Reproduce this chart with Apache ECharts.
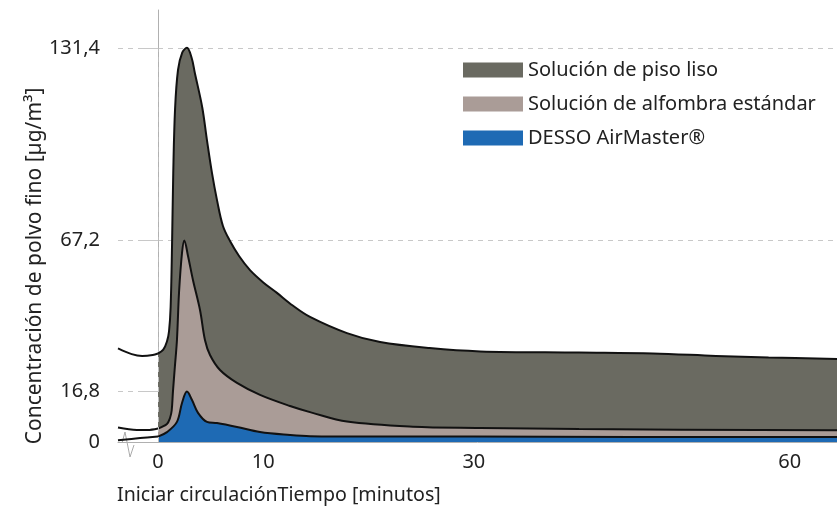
<!DOCTYPE html>
<html>
<head>
<meta charset="utf-8">
<script src="https://cdn.jsdelivr.net/npm/echarts@6/dist/echarts.min.js"></script>
<style>
html, body { margin: 0; padding: 0; background: #fff; }
#chart { width: 837px; height: 508px; }
</style>
</head>
<body>
<div id="chart"></div>
<script>
// names
var seriesNames = ['Solución de piso liso', 'Solución de alfombra estándar', 'DESSO AirMaster®'];
var yTicks = [0, 16.8, 67.2, 131.4];
var xTicks = [0, 10, 30, 60];

// [minutes, µg/m³] before circulation starts (line only)
var pisoPre = [[-3.8, 31.2], [-2.5, 29.3], [-1.5, 28.7], [-0.5, 29.0], [0, 29.5]];
var alfombraPre = [[-3.8, 4.8], [-2, 4.0], [-1, 4.0], [0, 4.5]];
var dessoPre = [[-3.8, 0.6], [-1.7, 1.3], [0, 1.8]];

// after start (filled)
var piso = [
	[0, 29.5], [0.5, 30.8], [0.85, 33.5], [1.05, 37], [1.2, 45], [1.33, 65], [1.45, 90],
	[1.62, 111], [1.9, 124], [2.3, 129.8], [2.75, 131.4], [3.2, 128], [3.5, 123],
	[4.2, 111.6], [4.65, 100.6], [5.13, 89.6], [5.6, 80.7], [6.17, 72], [6.84, 67],
	[7.7, 62], [8.74, 57.3], [10, 53.2], [11.3, 49.7], [12.8, 45.5], [14.44, 41.7],
	[17.95, 36.3], [21.1, 33.3], [25.8, 31.3], [30.6, 30.2], [40, 29.8], [47, 29.5],
	[53, 28.7], [58, 28.2], [64.5, 27.7]
];
var alfombra = [
	[0, 4.5], [0.85, 6.0], [1.14, 8.0], [1.3, 10.5], [1.42, 16.8], [1.6, 25], [1.8, 34],
	[2.0, 50], [2.28, 63], [2.5, 67.2], [2.85, 62], [3.32, 54], [3.99, 44], [4.46, 34],
	[4.94, 29], [5.89, 24], [7.5, 19.7], [9.69, 15.7], [12.54, 12], [14.6, 9.8],
	[17.95, 6.8], [24.2, 5.1], [30.6, 4.7], [40, 4.3], [64.5, 3.9]
];
var desso = [
	[0, 1.8], [0.85, 3.3], [1.8, 6.7], [2.28, 13], [2.75, 16.8], [3.23, 14], [3.8, 9.7],
	[4.65, 6.7], [5.6, 6.3], [7.5, 5.0], [9.69, 3.3], [12.54, 2.3], [14.44, 1.9],
	[20, 1.8], [30, 1.8], [45, 1.7], [64.5, 1.7]
];

var fills = ['#6a6a61', '#aa9c97', '#1e6ab4'];
var txt = '#222';
var fontFamily = 'Noto Sans';

function preLine(name, data) {
	return {
		name: name,
		type: 'line',
		data: data,
		smooth: 0.35,
		symbol: 'none',
		silent: true,
		lineStyle: { color: '#111', width: 2 }
	};
}

function mainArea(name, data, color) {
	return {
		name: name,
		type: 'line',
		data: data,
		smooth: 0.35,
		symbol: 'none',
		itemStyle: { color: color },
		lineStyle: { color: '#111', width: 2 },
		areaStyle: { color: color, opacity: 1 }
	};
}

var first = preLine('pre-piso', pisoPre);
first.markLine = {
	silent: true,
	symbol: 'none',
	label: { show: false },
	lineStyle: { color: '#bbb', type: [5, 5], width: 1 },
	data: [[{ coord: [0, 0] }, { coord: [0, 131.4] }]]
};

var option = {
	animation: false,
	textStyle: { fontFamily: fontFamily },
	grid: { left: 118, right: 0, top: 10, bottom: 66, containLabel: false },
	legend: {
		orient: 'vertical',
		left: 458,
		top: 54,
		icon: 'rect',
		itemWidth: 60,
		itemHeight: 15,
		itemGap: 12,
		itemStyle: { borderWidth: 0 },
		textStyle: { fontSize: 20, color: txt, lineHeight: 22 },
		data: seriesNames
	},
	xAxis: {
		type: 'value',
		min: -3.8,
		max: 64.5,
		axisLine: { lineStyle: { color: '#b0b0b0', width: 1 } },
		axisTick: { show: false },
		splitLine: { show: false },
		axisLabel: {
			customValues: xTicks,
			fontSize: 20,
			color: txt,
			margin: 10
		}
	},
	yAxis: {
		type: 'value',
		min: 0,
		max: 144,
		axisLine: { show: true, lineStyle: { color: '#b0b0b0', width: 1 } },
		axisTick: {
			show: true,
			length: 15,
			customValues: yTicks.slice(1),
			lineStyle: { color: '#c8c8c8', type: [5, 5], width: 1 }
		},
		splitLine: {
			show: true,
			lineStyle: { color: '#c8c8c8', type: [5, 5], width: 1 }
		},
		axisLabel: {
			customValues: yTicks,
			fontSize: 20,
			color: txt,
			margin: 18,
			formatter: function (v) { return String(v).replace('.', ','); }
		}
	},
	graphic: [
		{
			type: 'text',
			x: 35,
			y: 266,
			rotation: Math.PI / 2,
			style: {
				text: 'Concentración de polvo fino [µg/m³]',
				fill: txt,
				font: '21px "Noto Sans"',
				textAlign: 'center',
				textVerticalAlign: 'middle'
			}
		},
		{
			type: 'text',
			x: 117,
			y: 495,
			style: {
				text: 'Iniciar circulaciónTiempo [minutos]',
				fill: txt,
				font: '19.6px "Noto Sans"',
				textAlign: 'left',
				textVerticalAlign: 'middle'
			}
		},
		{
			type: 'polyline',
			shape: { points: [[122, 443], [125, 432], [130, 457], [134, 445]] },
			style: { stroke: '#aaa', fill: null, lineWidth: 1 }
		}
	],
	series: [
		first,
		preLine('pre-alfombra', alfombraPre),
		preLine('pre-desso', dessoPre),
		mainArea(seriesNames[0], piso, fills[0]),
		mainArea(seriesNames[1], alfombra, fills[1]),
		mainArea(seriesNames[2], desso, fills[2])
	]
};

var myChart = echarts.init(document.getElementById('chart'));
myChart.setOption(option);
</script>
</body>
</html>
